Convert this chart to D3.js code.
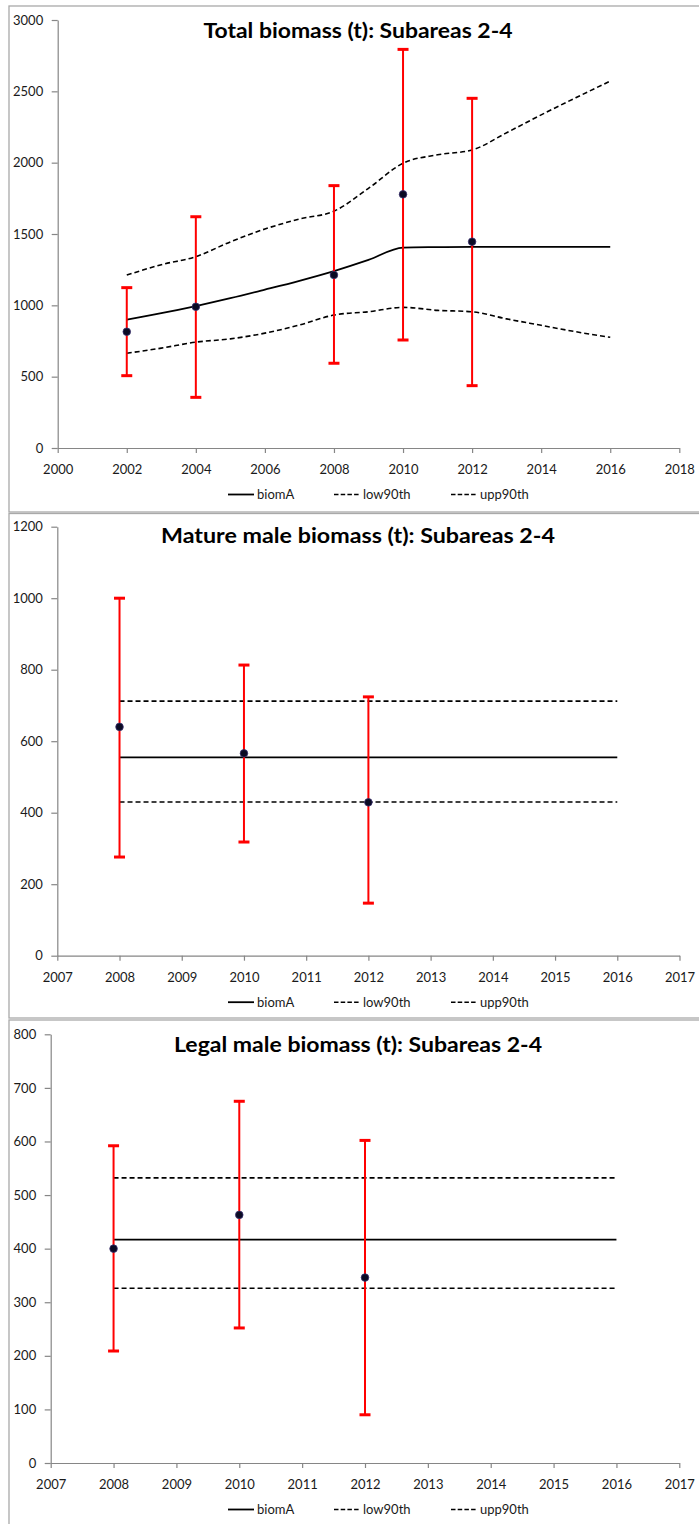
<!DOCTYPE html>
<html>
<head>
<meta charset="utf-8">
<script src="https://cdn.jsdelivr.net/npm/d3@7"></script>
<style>
  html, body { margin: 0; padding: 0; background: #fff; }
  svg { display: block; }
  text { font-family: Lato, "Open Sans", sans-serif; }
</style>
</head>
<body>
<svg id="chart" width="699" height="1524"></svg>
<script>
// ---- Total biomass (t): annual model trajectory and survey estimates ----
const totalYears = [2002, 2003, 2004, 2005, 2006, 2007, 2008, 2009, 2010, 2011, 2012, 2013, 2014, 2015, 2016];
const totalBiomA = [900, 945, 995, 1050, 1110, 1172, 1240, 1318, 1405, 1408, 1410, 1410, 1410, 1410, 1410];
const totalLow90 = [664, 700, 742, 765, 805, 862, 932, 955, 986, 965, 955, 905, 860, 815, 776];
const totalUpp90 = [1212, 1285, 1341, 1445, 1535, 1605, 1660, 1820, 1996, 2055, 2089, 2210, 2335, 2455, 2572];
const totalSurveyYears = [2002, 2004, 2008, 2010, 2012];
const totalSurvey = [815, 990, 1213, 1778, 1446];
const totalSurveyLo = [507, 355, 594, 757, 437];
const totalSurveyHi = [1124, 1621, 1839, 2794, 2451];

// ---- Mature male biomass (t) ----
const matureYears = [2008, 2016];
const matureBiomA = [555, 555];
const matureLow90 = [430, 430];
const matureUpp90 = [712, 712];
const matureSurveyYears = [2008, 2010, 2012];
const matureSurvey = [640, 566, 429];
const matureSurveyLo = [276, 318, 147];
const matureSurveyHi = [1000, 813, 724];

// ---- Legal male biomass (t) ----
const legalYears = [2008, 2016];
const legalBiomA = [417, 417];
const legalLow90 = [326, 326];
const legalUpp90 = [532, 532];
const legalSurveyYears = [2008, 2010, 2012];
const legalSurvey = [400, 463, 346];
const legalSurveyLo = [209, 252, 90];
const legalSurveyHi = [592, 675, 602];

// ---- Axis settings ----
const totalXTicks = [2000, 2002, 2004, 2006, 2008, 2010, 2012, 2014, 2016, 2018];
const totalYTicks = [0, 500, 1000, 1500, 2000, 2500, 3000];
const matureXTicks = [2007, 2008, 2009, 2010, 2011, 2012, 2013, 2014, 2015, 2016, 2017];
const matureYTicks = [0, 200, 400, 600, 800, 1000, 1200];
const legalXTicks = [2007, 2008, 2009, 2010, 2011, 2012, 2013, 2014, 2015, 2016, 2017];
const legalYTicks = [0, 100, 200, 300, 400, 500, 600, 700, 800];

const seriesNames = ["biomA", "low90th", "upp90th"];

const panels = [
  {
    title: "Total biomass (t): Subareas 2-4", titleW: 309,
    frame: [9, 6, 710, 512], titleY: 37.5,
    left: 57.7, right: 679.3, top: 20, bottom: 448,
    xDomain: [2000, 2018], yDomain: [0, 3000],
    xTicks: totalXTicks, yTicks: totalYTicks,
    years: totalYears, biomA: totalBiomA, low: totalLow90, upp: totalUpp90,
    sYears: totalSurveyYears, s: totalSurvey, sLo: totalSurveyLo, sHi: totalSurveyHi,
    smooth: true
  },
  {
    title: "Mature male biomass (t): Subareas 2-4", titleW: 394,
    frame: [9, 513.5, 710, 1018], titleY: 543.3,
    left: 57.3, right: 679.5, top: 526.7, bottom: 955.7,
    xDomain: [2007, 2017], yDomain: [0, 1200],
    xTicks: matureXTicks, yTicks: matureYTicks,
    years: matureYears, biomA: matureBiomA, low: matureLow90, upp: matureUpp90,
    sYears: matureSurveyYears, s: matureSurvey, sLo: matureSurveyLo, sHi: matureSurveyHi,
    smooth: false
  },
  {
    title: "Legal male biomass (t): Subareas 2-4", titleW: 368,
    frame: [9, 1020, 710, 1540], titleY: 1051.7,
    left: 50.7, right: 679.3, top: 1034.3, bottom: 1463,
    xDomain: [2007, 2017], yDomain: [0, 800],
    xTicks: legalXTicks, yTicks: legalYTicks,
    years: legalYears, biomA: legalBiomA, low: legalLow90, upp: legalUpp90,
    sYears: legalSurveyYears, s: legalSurvey, sLo: legalSurveyLo, sHi: legalSurveyHi,
    smooth: false
  }
];

const svg = d3.select("#chart");
const AXIS = "#868686";
const LABEL = "#1a1a1a";
const DASH = "5,3";

function drawPanel(p) {
  const g = svg.append("g");

  // chart frame
  g.append("rect")
    .attr("x", p.frame[0]).attr("y", p.frame[1])
    .attr("width", p.frame[2] - p.frame[0]).attr("height", p.frame[3] - p.frame[1])
    .attr("fill", "#fff").attr("stroke", "#a9a9a9").attr("stroke-width", 1.3);

  const x = d3.scaleLinear().domain(p.xDomain).range([p.left, p.right]);
  const y = d3.scaleLinear().domain(p.yDomain).range([p.bottom, p.top]);

  // axes
  const xAxis = d3.axisBottom(x).tickValues(p.xTicks).tickFormat(d3.format("d"))
    .tickSizeInner(5).tickSizeOuter(0).tickPadding(12);
  const yAxis = d3.axisLeft(y).tickValues(p.yTicks).tickFormat(d3.format("d"))
    .tickSizeInner(6).tickSizeOuter(0).tickPadding(8.5);

  const gx = g.append("g").attr("transform", `translate(0,${p.bottom})`).call(xAxis);
  const gy = g.append("g").attr("transform", `translate(${p.left},0)`).call(yAxis);
  [gx, gy].forEach(a => {
    a.select(".domain").attr("stroke", AXIS).attr("stroke-width", 1.2);
    a.selectAll(".tick line").attr("stroke", AXIS).attr("stroke-width", 1.2);
    a.selectAll(".tick text").attr("fill", LABEL).attr("font-size", 13)
      .attr("font-family", "Lato, sans-serif");
  });

  // title
  g.append("text")
    .attr("x", 358).attr("y", p.titleY)
    .attr("text-anchor", "middle")
    .attr("font-size", 20).attr("font-weight", "bold").attr("fill", "#000")
    .attr("textLength", p.titleW).attr("lengthAdjust", "spacingAndGlyphs")
    .text(p.title);

  // model lines
  const line = d3.line()
    .x(d => x(d[0])).y(d => y(d[1]))
    .curve(p.smooth ? d3.curveMonotoneX : d3.curveLinear);
  const pts = arr => p.years.map((yr, i) => [yr, arr[i]]);

  g.append("path").attr("d", line(pts(p.biomA)))
    .attr("fill", "none").attr("stroke", "#000").attr("stroke-width", 1.8);
  [p.low, p.upp].forEach(arr => {
    g.append("path").attr("d", line(pts(arr)))
      .attr("fill", "none").attr("stroke", "#000").attr("stroke-width", 1.6)
      .attr("stroke-dasharray", DASH);
  });

  // survey estimates with error bars
  const survey = p.sYears.map((yr, i) => ({ yr, v: p.s[i], lo: p.sLo[i], hi: p.sHi[i] }));
  const eb = g.append("g").attr("stroke", "#ff0000");
  eb.selectAll("line.v").data(survey).join("line")
    .attr("x1", d => x(d.yr)).attr("x2", d => x(d.yr))
    .attr("y1", d => y(d.lo)).attr("y2", d => y(d.hi))
    .attr("stroke-width", 2);
  ["lo", "hi"].forEach(k => {
    eb.selectAll("line.cap-" + k).data(survey).join("line")
      .attr("x1", d => x(d.yr) - 5.5).attr("x2", d => x(d.yr) + 5.5)
      .attr("y1", d => y(d[k])).attr("y2", d => y(d[k]))
      .attr("stroke-width", 3);
  });
  g.selectAll("circle").data(survey).join("circle")
    .attr("cx", d => x(d.yr)).attr("cy", d => y(d.v)).attr("r", 3.8)
    .attr("fill", "#0b0b24").attr("stroke", "#3a3170").attr("stroke-width", 0.8);

  // legend
  const ly = p.bottom + 46.5;
  const legendItems = [
    { name: seriesNames[0], x0: 228, dash: null },
    { name: seriesNames[1], x0: 334, dash: "4.5,2.2" },
    { name: seriesNames[2], x0: 451, dash: "4.5,2.2" }
  ];
  legendItems.forEach(it => {
    g.append("line")
      .attr("x1", it.x0).attr("x2", it.x0 + 26).attr("y1", ly).attr("y2", ly)
      .attr("stroke", "#000").attr("stroke-width", it.dash ? 1.6 : 1.8)
      .attr("stroke-dasharray", it.dash);
    g.append("text")
      .attr("x", it.x0 + 29).attr("y", ly + 4.5)
      .attr("font-size", 13).attr("fill", LABEL)
      .text(it.name);
  });
}

panels.forEach(drawPanel);
</script>
</body>
</html>
